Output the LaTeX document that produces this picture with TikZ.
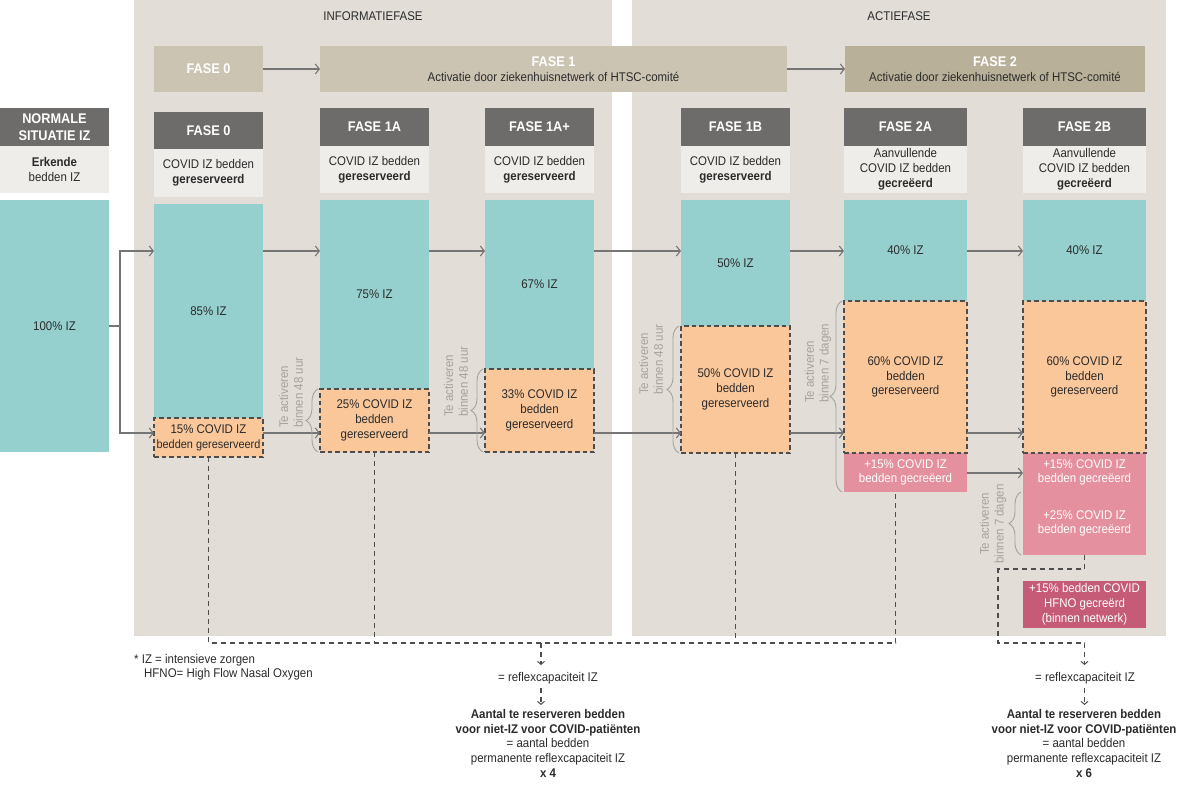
\documentclass[tikz,border=0pt]{standalone}
\usepackage{fontspec}
\setmainfont[FakeStretch=0.91]{Liberation Sans}
\usetikzlibrary{arrows.meta,decorations.pathreplacing,calc}
\definecolor{panel}{HTML}{E2DED7}
\definecolor{tealc}{HTML}{95D0CF}
\definecolor{orng}{HTML}{F9C79A}
\definecolor{pnk}{HTML}{E5909E}
\definecolor{dpnk}{HTML}{C55B76}
\definecolor{hdr}{HTML}{6D6C6A}
\definecolor{lite}{HTML}{EFEDE9}
\definecolor{khaki}{HTML}{CBC4B2}
\definecolor{khakii}{HTML}{B8B098}
\definecolor{txt}{HTML}{2B2B2B}
\definecolor{arr}{HTML}{757575}
\definecolor{note}{HTML}{A6A29C}
\definecolor{dsh}{HTML}{4D4D4D}
\newcommand\myfs{\fontsize{12.6}{14.8}\selectfont}
\newcommand\mysm{\fontsize{12}{14.5}\selectfont}
\newcommand\myhd{\fontsize{14}{17}\selectfont\bfseries}
\newcommand\mybox[7]{\node[#1, minimum width={#4-#2}, minimum height={#5-#3}] (#6) at (#2,#3) {#7};}
\begin{document}
\begin{tikzpicture}[x=1pt,y=-1pt,
  box/.style={anchor=north west, inner sep=0pt, outer sep=0pt, align=center, text=txt, font=\myfs},
  hd/.style={box, fill=hdr, text=white, font=\myhd},
  lt/.style={box, fill=lite},
  tl/.style={box, fill=tealc},
  og/.style={box, fill=orng, draw=dsh, line width=1.1pt, dash pattern=on 4.5pt off 3pt},
  pk/.style={box, fill=pnk, text=white},
  dp/.style={box, fill=dpnk, text=white},
  kh/.style={box, fill=khaki},
  khb/.style={box, fill=khakii},
  flw/.style={draw=arr, line width=1.2pt, -{Straight Barb[length=4pt,width=10pt,line width=1.1pt]}},
  ln/.style={draw=arr, line width=1.2pt},
  brc/.style={draw=note, line width=0.9pt, decorate, decoration={brace, amplitude=12pt}},
  rot/.style={rotate=90, align=left, text=note, font=\myfs, inner sep=0pt},
  dsl/.style={draw=dsh, line width=1.1pt, dash pattern=on 5pt off 4pt},
  dar/.style={dsl, -{Straight Barb[length=3pt,width=7pt,line width=1pt]}},
  lbl/.style={inner sep=0pt, text=txt, font=\myfs, align=center}
]
\useasboundingbox (0,0) rectangle (1178,790);
\fill[panel] (134,0) rectangle (612,636);
\fill[panel] (632,0) rectangle (1166,636);
\node[lbl] (lInf) at (373,16) {INFORMATIEFASE};
\node[lbl] (lAct) at (899,16) {ACTIEFASE};

% top row
\mybox{kh}{154}{46}{263}{92}{t0}{\myhd\color{white}FASE 0}
\mybox{kh}{320}{46}{787}{92}{t1}{{\myhd\color{white}FASE 1}\\Activatie door ziekenhuisnetwerk of HTSC-comité}
\mybox{khb}{845}{46}{1145}{92}{t2}{{\myhd\color{white}FASE 2}\\Activatie door ziekenhuisnetwerk of HTSC-comité}
\draw[flw] (t0.east) -- (t1.west);
\draw[flw] (t1.east) -- (t2.west);

% normal
\mybox{hd}{0}{108}{109}{146}{nH}{NORMALE\\SITUATIE IZ}
\mybox{lt}{0}{146}{109}{193}{nL}{\textbf{Erkende}\\bedden IZ}
\mybox{tl}{0}{200}{109}{452}{nT}{100\% IZ}

% fase 0
\mybox{hd}{154}{112}{263}{149}{f0H}{FASE 0}
\mybox{lt}{154}{149}{263}{197}{f0L}{COVID IZ bedden\\\textbf{gereserveerd}}
\mybox{tl}{154}{204}{263}{418}{f0T}{85\% IZ}
\mybox{og}{154}{418}{263}{457}{f0O}{15\% COVID IZ\\{\mysm bedden gereserveerd}}

% fase 1A
\mybox{hd}{320}{108}{429}{146}{aH}{FASE 1A}
\mybox{lt}{320}{146}{429}{193}{aL}{COVID IZ bedden\\\textbf{gereserveerd}}
\mybox{tl}{320}{200}{429}{389}{aT}{75\% IZ}
\mybox{og}{320}{389}{429}{452}{aO}{25\% COVID IZ\\bedden\\gereserveerd}

% fase 1A+
\mybox{hd}{485}{108}{594}{146}{pH}{FASE 1A+}
\mybox{lt}{485}{146}{594}{193}{pL}{COVID IZ bedden\\\textbf{gereserveerd}}
\mybox{tl}{485}{200}{594}{369}{pT}{67\% IZ}
\mybox{og}{485}{369}{594}{452}{pO}{33\% COVID IZ\\bedden\\gereserveerd}

% fase 1B
\mybox{hd}{681}{108}{790}{146}{bH}{FASE 1B}
\mybox{lt}{681}{146}{790}{193}{bL}{COVID IZ bedden\\\textbf{gereserveerd}}
\mybox{tl}{681}{200}{790}{326}{bT}{50\% IZ}
\mybox{og}{681}{326}{790}{453}{bO}{50\% COVID IZ\\bedden\\gereserveerd}

% fase 2A
\mybox{hd}{844}{108}{967}{146}{cH}{FASE 2A}
\mybox{lt}{844}{146}{967}{193}{cL}{Aanvullende\\COVID IZ bedden\\\textbf{gecreëerd}}
\mybox{tl}{844}{200}{967}{301}{cT}{40\% IZ}
\mybox{pk}{844}{453}{967}{492}{cP}{+15\% COVID IZ\\bedden gecreëerd}
\mybox{og}{844}{301}{967}{453}{cO}{60\% COVID IZ\\bedden\\gereserveerd}

% fase 2B
\mybox{hd}{1023}{108}{1146}{146}{dH}{FASE 2B}
\mybox{lt}{1023}{146}{1146}{193}{dL}{Aanvullende\\COVID IZ bedden\\\textbf{gecreëerd}}
\mybox{tl}{1023}{200}{1146}{301}{dT}{40\% IZ}
\mybox{pk}{1023}{453}{1146}{492}{dP}{+15\% COVID IZ\\bedden gecreëerd}
\mybox{pk}{1023}{492}{1146}{555}{dQ}{+25\% COVID IZ\\bedden gecreëerd}
\mybox{og}{1023}{301}{1146}{453}{dO}{60\% COVID IZ\\bedden\\gereserveerd}
\mybox{dp}{1023}{581}{1146}{628}{dH2}{+15\% bedden COVID\\HFNO gecreërd\\(binnen netwerk)}

% flows
\coordinate (U) at (0,251);
\coordinate (L) at (0,433);
\coordinate (P) at (0,473);
\draw[ln] (nT.east) -- ++(11,0) coordinate (b0);
\draw[flw] (b0) |- (f0T.west |- U);
\draw[flw] (b0) |- (f0O.west |- L);
\draw[flw] (f0T.east |- U) -- (aT.west |- U);
\draw[flw] (aT.east |- U) -- (pT.west |- U);
\draw[flw] (pT.east |- U) -- (bT.west |- U);
\draw[flw] (bT.east |- U) -- (cT.west |- U);
\draw[flw] (cT.east |- U) -- (dT.west |- U);
\draw[flw] (f0O.east |- L) -- (aO.west |- L);
\draw[flw] (aO.east |- L) -- (pO.west |- L);
\draw[flw] (pO.east |- L) -- (bO.west |- L);
\draw[flw] (bO.east |- L) -- (cO.west |- L);
\draw[flw] (cO.east |- L) -- (dO.west |- L);
\draw[flw] (cP.east |- P) -- (dP.west |- P);

% braces
\draw[brc] ($(aO.south west)+(-2,0)$) -- ($(aO.north west)+(-2,0)$);
\draw[brc] ($(pO.south west)+(-2,0)$) -- ($(pO.north west)+(-2,0)$);
\draw[brc] ($(bO.south west)+(-2,0)$) -- ($(bO.north west)+(-2,0)$);
\draw[brc] ($(cP.south west)+(-2,0)$) -- ($(cO.north west)+(-2,0)$);
\draw[brc] ($(dQ.south west)+(-2,0)$) -- ($(dQ.north west)+(-2,0)$);
\node[rot, anchor=west] (r1) at (291,428) {Te activeren\\binnen 48 uur};
\node[rot, anchor=west] (r2) at (456,417) {Te activeren\\binnen 48 uur};
\node[rot, anchor=west] (r3) at (651,395) {Te activeren\\binnen 48 uur};
\node[rot, anchor=west] (r4) at (818,403) {Te activeren\\binnen 7 dagen};
\node[rot, align=center] (r5) at (993,524) {Te activeren\\binnen 7 dagen};

% dashed collection lines
\coordinate (B) at (0,643);
\coordinate (d2a) at ($(cP.south)+(-10,0)$);
\draw[dsl] (f0O.south) -- (f0O.south |- B) -- (d2a |- B) -- (d2a);
\draw[dsl] (aO.south) -- (aO.south |- B);
\draw[dsl] (bO.south) -- (bO.south |- B);
\coordinate (j1) at (541,643);
\node[lbl] (e1) at (548,678) {= reflexcapaciteit IZ};
\draw[dar] (j1) -- (j1 |- 0,665);
\node[lbl, anchor=north] (res1) at (548,709) {\textbf{Aantal te reserveren bedden}\\\textbf{voor niet-IZ voor COVID-patiënten}\\= aantal bedden\\permanente reflexcapaciteit IZ\\\textbf{x 4}};
\draw[dar] (j1 |- 0,688) -- (j1 |- 0,705);

\coordinate (k) at (998,0);
\draw[dar] (dQ.south) -- ++(0,14) -| (k |- B) -| ($(dQ.south |- B)+(0,22)$);
\node[lbl] (e2) at (1085,678) {= reflexcapaciteit IZ};
\node[lbl, anchor=north] (res2) at (1084,709) {\textbf{Aantal te reserveren bedden}\\\textbf{voor niet-IZ voor COVID-patiënten}\\= aantal bedden\\permanente reflexcapaciteit IZ\\\textbf{x 6}};
\draw[dar] ($(dQ.south |- 0,688)$) -- ($(dQ.south |- 0,705)$);

% notes
\node[lbl, anchor=west] (n1) at (134,660) {* IZ = intensieve zorgen};
\node[lbl, anchor=west] (n2) at (144,674) {HFNO= High Flow Nasal Oxygen};
\end{tikzpicture}
\end{document}
